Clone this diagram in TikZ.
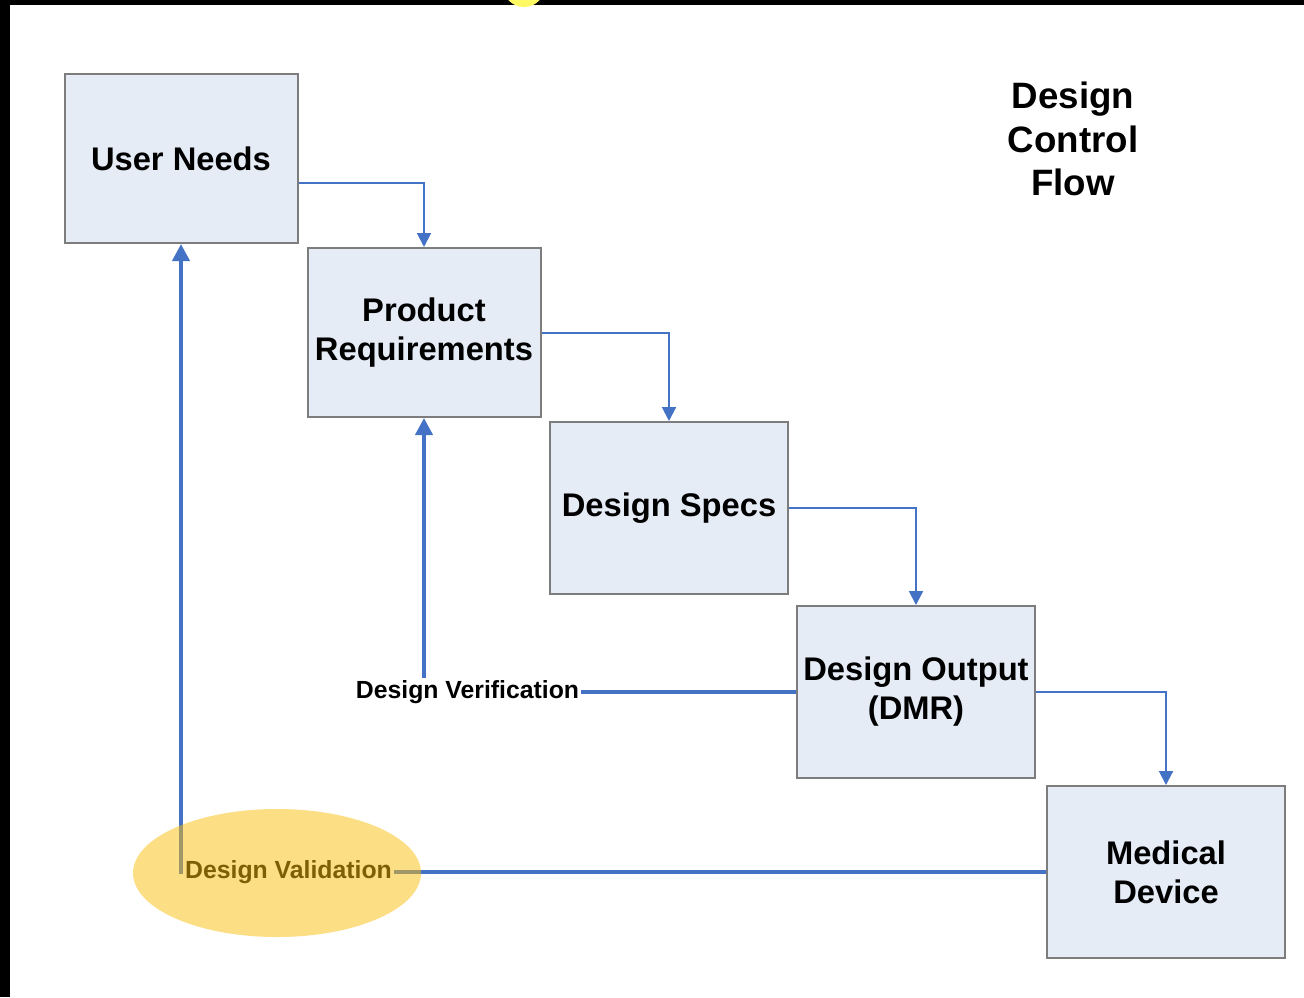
\documentclass[tikz,border=0pt]{standalone}
\usepackage{fontspec}
\setmainfont{Liberation Sans}
\usetikzlibrary{arrows.meta,shapes.geometric,calc}
\definecolor{boxfill}{RGB}{230,236,246}
\definecolor{boxdraw}{RGB}{125,125,125}
\definecolor{flowblue}{RGB}{68,114,196}
\definecolor{ovalfill}{RGB}{250,190,10}
\definecolor{topdot}{RGB}{255,250,100}
\tikzset{
  stagebox/.style={draw=boxdraw, fill=boxfill, line width=2pt, minimum width=233pt, minimum height=169pt,
    inner sep=0pt, align=center, font=\fontsize{32.7}{39}\selectfont\bfseries},
  thinflow/.style={draw=flowblue, line width=2pt, -{Triangle[width=14pt,length=14pt]}},
  thickflow/.style={draw=flowblue, line width=4pt},
  thickarrow/.style={thickflow, -{Triangle[width=17pt,length=17pt]}},
  looplabel/.style={inner sep=2pt, font=\fontsize{24.8}{28}\selectfont\bfseries},
  titletext/.style={align=center, font=\fontsize{36.7}{43.5}\selectfont\bfseries}
}
\begin{document}
\begin{tikzpicture}[x=1pt,y=-1pt]
\useasboundingbox (0,0) rectangle (1304,997);
\fill[white] (0,0) rectangle (1304,997);
\fill[black] (0,0) rectangle (10,997);
\fill[black] (0,0) rectangle (1304,5);
\begin{scope}
\clip (0,0) rectangle (1304,997);
\fill[topdot] (524,-14) circle (21);
\end{scope}

\node[stagebox, minimum height=169pt] (UN) at (181,158.5) {User Needs};
\node[stagebox, minimum height=169pt] (PR) at (424,332.5) {Product\\Requirements};
\node[stagebox, minimum width=238pt, minimum height=172pt] (DS) at (669,508) {Design Specs};
\node[stagebox, minimum width=238pt, minimum height=172pt] (DO) at (916,692) {Design Output\\(DMR)};
\node[stagebox, minimum width=238pt, minimum height=172pt] (MD) at (1166,872) {Medical\\Device};

\node[titletext] (title) at (1073,139) {Design\\Control\\Flow};

\draw[thinflow] ([yshift=-24.5pt]UN.east) -| (PR.north);
\draw[thinflow] (PR.east) -| (DS.north);
\draw[thinflow] (DS.east) -| (DO.north);
\draw[thinflow] (DO.east) -| (MD.north);

\node[looplabel] (ver) at (467.5,692) {Design Verification};
\draw[thickflow] (DO.west) -- (ver.east);
\draw[thickarrow] (PR.south |- ver.north) -- (PR.south);

\node[looplabel] (val) at (288.5,872) {Design Validation};
\draw[thickflow] (MD.west) -- (val.east);
\draw[thickarrow] (val.west) -| (UN.south);

\fill[ovalfill, opacity=0.5] (277,873) ellipse [x radius=144, y radius=64];
\end{tikzpicture}
\end{document}
